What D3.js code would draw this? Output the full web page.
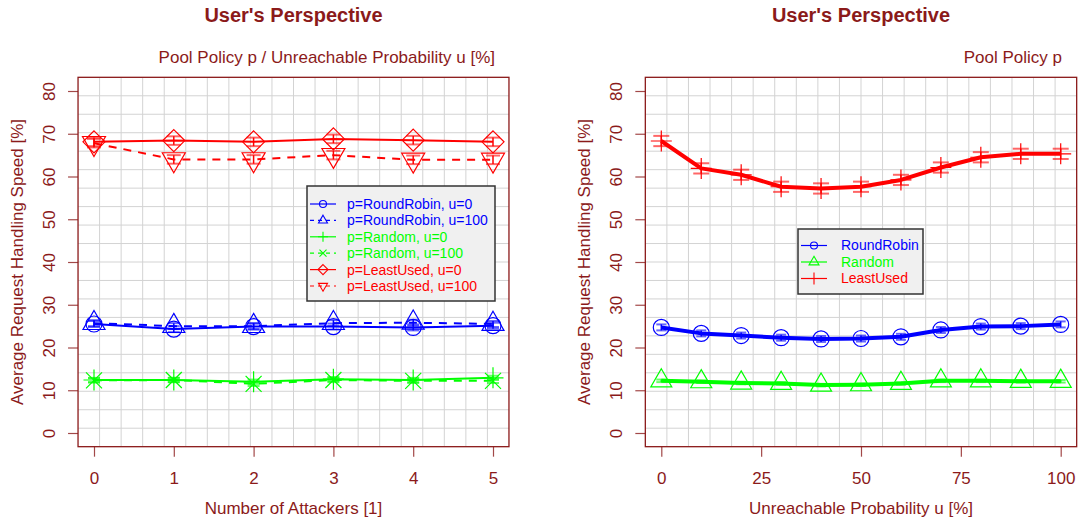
<!DOCTYPE html>
<html><head><meta charset="utf-8">
<script src="https://cdn.jsdelivr.net/npm/d3@7"></script>
<style>
body{margin:0;background:#fff}
svg{display:block}
text{font-family:"Liberation Sans",Arial,Helvetica,sans-serif}
</style>
</head><body><svg id="chart" width="1081" height="522"></svg>
<script>
// ---------- data ----------
const attackers = [0, 1, 2, 3, 4, 5];
const leftRRu0   = [25.5, 24.3, 24.9, 24.9, 24.7, 25.1];
const leftRRu100 = [25.7, 25.0, 25.0, 25.7, 25.8, 25.5];
const leftRndU0  = [12.4, 12.4, 12.0, 12.6, 12.4, 12.9];
const leftRndU100= [12.3, 12.4, 11.5, 12.4, 12.2, 12.2];
const leftLUu0   = [68.1, 68.4, 68.1, 68.8, 68.5, 68.1];
const leftLUu100 = [67.8, 64.0, 64.0, 65.0, 63.9, 63.9];
const leftErrRR  = [0.7, 0.7, 0.7, 0.7, 0.7, 0.7];
const leftErrRnd = [0.5, 0.5, 0.5, 0.5, 0.5, 0.5];
const leftErrLU  = [1.0, 1.0, 1.0, 1.0, 1.0, 1.0];

const unreach = [0, 10, 20, 30, 40, 50, 60, 70, 80, 90, 100];
const rightRR  = [24.7, 23.3, 22.8, 22.3, 22.0, 22.1, 22.5, 24.1, 24.9, 25.0, 25.4];
const rightRnd = [12.2, 12.0, 11.7, 11.6, 11.2, 11.3, 11.6, 12.2, 12.2, 12.1, 12.1];
const rightLU  = [68.3, 61.9, 60.4, 57.6, 57.2, 57.6, 59.2, 62.1, 64.5, 65.3, 65.3];
const rightErrRR  = [0.7, 0.7, 0.7, 0.7, 0.7, 0.7, 0.7, 0.7, 0.7, 0.7, 0.7];
const rightErrRnd = [0.3, 0.3, 0.3, 0.3, 0.3, 0.3, 0.3, 0.3, 0.3, 0.3, 0.3];
const rightErrLU  = [1.2, 1.2, 1.2, 1.2, 1.2, 1.2, 1.2, 1.2, 1.2, 1.2, 1.2];

const yTicks = [0, 10, 20, 30, 40, 50, 60, 70, 80];
const leftXTicks = [0, 1, 2, 3, 4, 5];
const rightXTicks = [0, 25, 50, 75, 100];

const leftLegend = ["p=RoundRobin, u=0","p=RoundRobin, u=100","p=Random, u=0","p=Random, u=100","p=LeastUsed, u=0","p=LeastUsed, u=100"];
const rightLegend = ["RoundRobin","Random","LeastUsed"];

// ---------- setup ----------
const TXT = "#8B1A1A";
const BLUE = "#0000ff", GREEN = "#00ff00", RED = "#ff0000";
const svg = d3.select("#chart");

function sym(g, type, cx, cy, s, color, sw) {
  sw = sw || 1.2;
  const p = d3.path();
  if (type === "circle") {
    g.append("circle").attr("cx", cx).attr("cy", cy).attr("r", s)
      .attr("fill", "none").attr("stroke", color).attr("stroke-width", sw);
    return;
  }
  if (type === "triUp" || type === "triDown") {
    const h = s * Math.sqrt(3) / 2, d = type === "triUp" ? 1 : -1;
    p.moveTo(cx, cy - d * 2 * h / 3);
    p.lineTo(cx + s / 2, cy + d * h / 3);
    p.lineTo(cx - s / 2, cy + d * h / 3);
    p.closePath();
  } else if (type === "diamond") {
    p.moveTo(cx, cy - s); p.lineTo(cx + s, cy); p.lineTo(cx, cy + s); p.lineTo(cx - s, cy); p.closePath();
  } else if (type === "plus") {
    p.moveTo(cx - s, cy); p.lineTo(cx + s, cy); p.moveTo(cx, cy - s); p.lineTo(cx, cy + s);
  } else if (type === "cross") {
    p.moveTo(cx - s, cy - s); p.lineTo(cx + s, cy + s); p.moveTo(cx - s, cy + s); p.lineTo(cx + s, cy - s);
  }
  g.append("path").attr("d", p.toString()).attr("fill", "none").attr("stroke", color).attr("stroke-width", sw);
}

function panel(cfg) {
  const x = d3.scaleLinear().domain(cfg.xDomain).range(cfg.xRange);
  const y = d3.scaleLinear().domain([0, 80]).range([433, 91]);
  const pad = (cfg.xDomain[1] - cfg.xDomain[0]) * 0.04;
  const x0 = x(cfg.xDomain[0] - pad), x1 = x(cfg.xDomain[1] + pad);
  const y0 = y(83.2), y1 = y(-3.2);
  const g = svg.append("g");

  // grid (20 x 20 divisions of plot region)
  const grid = g.append("g").attr("stroke", "#d3d3d3").attr("stroke-width", 1);
  for (let i = 1; i < 20; i++) {
    const gx = x0 + (x1 - x0) * i / 20, gy = y0 + (y1 - y0) * i / 20;
    grid.append("line").attr("x1", gx).attr("x2", gx).attr("y1", y0).attr("y2", y1);
    grid.append("line").attr("x1", x0).attr("x2", x1).attr("y1", gy).attr("y2", gy);
  }

  // axes
  const ya = g.append("g").attr("transform", `translate(${x0},0)`)
    .call(d3.axisLeft(y).tickValues(yTicks).tickSize(10).tickFormat(d3.format("d")));
  ya.select(".domain").remove();
  ya.selectAll("line").attr("stroke", TXT).attr("stroke-opacity", 0.8).attr("stroke-width", 1.2);
  ya.selectAll("text").attr("x", null).attr("dy", null)
    .attr("transform", "translate(-23,0) rotate(-90)").attr("text-anchor", "middle")
    .attr("fill", TXT).style("font-size", "17px").style("font-family", '"Liberation Sans",Arial,sans-serif');

  const xa = g.append("g").attr("transform", `translate(0,${y1})`)
    .call(d3.axisBottom(x).tickValues(cfg.xTicks).tickSize(10).tickFormat(d3.format("d")));
  xa.select(".domain").remove();
  xa.selectAll("line").attr("stroke", TXT).attr("stroke-opacity", 0.8).attr("stroke-width", 1.2);
  xa.selectAll("text").attr("y", 37).attr("dy", null)
    .attr("fill", TXT).style("font-size", "17px").style("font-family", '"Liberation Sans",Arial,sans-serif');

  // box
  g.append("rect").attr("x", x0).attr("y", y0).attr("width", x1 - x0).attr("height", y1 - y0)
    .attr("fill", "none").attr("stroke", TXT).attr("stroke-width", 1.3);

  // titles
  const cx = (x0 + x1) / 2;
  g.append("text").attr("x", cx).attr("y", 22).attr("text-anchor", "middle")
    .attr("fill", TXT).style("font-size", "20px").style("font-weight", "bold").text("User's Perspective");
  g.append("text").attr("x", cfg.subX).attr("y", 63).attr("text-anchor", "end")
    .attr("fill", TXT).style("font-size", "17px").text(cfg.sub);
  g.append("text").attr("x", cx).attr("y", 514).attr("text-anchor", "middle")
    .attr("fill", TXT).style("font-size", "17px").text(cfg.xTitle);
  g.append("text").attr("transform", `translate(${cfg.yTitleX},${(y0 + y1) / 2}) rotate(-90)`)
    .attr("text-anchor", "middle").attr("fill", TXT).style("font-size", "17px")
    .text("Average Request Handling Speed [%]");

  // series
  const xs = cfg.xs;
  cfg.series.forEach(s => {
    const line = d3.line().x((d, i) => x(xs[i])).y(d => y(d));
    g.append("path").datum(s.values).attr("d", line).attr("fill", "none")
      .attr("stroke", s.color).attr("stroke-width", s.lw)
      .attr("stroke-dasharray", s.dash || null).attr("stroke-linejoin", "round");
  });
  cfg.series.forEach(s => {
    const sg = g.append("g");
    s.values.forEach((v, i) => {
      const px = x(xs[i]), py = y(v);
      const lo = y(v - s.err[i]), hi = y(v + s.err[i]);
      sg.append("line").attr("x1", px).attr("x2", px).attr("y1", lo).attr("y2", hi)
        .attr("stroke", s.color).attr("stroke-width", 1.5);
      [lo, hi].forEach(yy => sg.append("line").attr("x1", px - s.cap).attr("x2", px + s.cap)
        .attr("y1", yy).attr("y2", yy).attr("stroke", s.color).attr("stroke-width", 2)
        .attr("stroke-opacity", 0.6));
      sym(sg, s.sym, px, py, s.size, s.color, 1.2);
    });
  });

  // legend
  const L = cfg.legend;
  const lg = g.append("g");
  lg.append("rect").attr("x", L.x).attr("y", L.y).attr("width", L.w).attr("height", L.h)
    .attr("fill", "#f0f0f0").attr("stroke", "#333").attr("stroke-width", 1.5);
  L.labels.forEach((lab, i) => {
    const s = L.items[i];
    const yy = L.y + L.first + i * L.step;
    lg.append("line").attr("x1", L.x + 3).attr("x2", L.x + 29).attr("y1", yy).attr("y2", yy)
      .attr("stroke", s.color).attr("stroke-width", 1.2).attr("stroke-dasharray", s.dash ? "4,4" : null);
    sym(lg, s.sym, L.x + 16, yy, L.symSize[s.sym], s.color, 1.1);
    lg.append("text").attr("x", L.x + L.textOff).attr("y", yy).attr("dy", "0.35em")
      .attr("fill", s.color).style("font-size", "14px").text(lab);
  });
}

// ---------- left panel ----------
const leftSeries = [
  {values: leftRRu0,    err: leftErrRR,  color: BLUE,  lw: 2, sym: "circle",  size: 8,  cap: 6},
  {values: leftRRu100,  err: leftErrRR,  color: BLUE,  lw: 2, sym: "triUp",   size: 22, cap: 6, dash: "8,7"},
  {values: leftRndU0,   err: leftErrRnd, color: GREEN, lw: 2, sym: "plus",    size: 10.5, cap: 6},
  {values: leftRndU100, err: leftErrRnd, color: GREEN, lw: 2, sym: "cross",   size: 8,  cap: 6, dash: "8,7"},
  {values: leftLUu0,    err: leftErrLU,  color: RED,   lw: 2, sym: "diamond", size: 11, cap: 7},
  {values: leftLUu100,  err: leftErrLU,  color: RED,   lw: 2, sym: "triDown", size: 23, cap: 7, dash: "8,7"}
];
panel({
  xDomain: [0, 5], xRange: [94, 493], xTicks: leftXTicks, xs: attackers,
  sub: "Pool Policy p / Unreachable Probability u [%]", subX: 495,
  xTitle: "Number of Attackers [1]", yTitleX: 22.5,
  series: leftSeries,
  legend: {x: 307, y: 186, w: 188, h: 115, first: 18, step: 16.4, textOff: 40,
    labels: leftLegend, items: leftSeries,
    symSize: {circle: 3.5, triUp: 9, plus: 5, cross: 3.5, diamond: 5, triDown: 9}}
});

// ---------- right panel ----------
const rightSeries = [
  {values: rightRR,  err: rightErrRR,  color: BLUE,  lw: 4, sym: "circle", size: 8,  cap: 5},
  {values: rightRnd, err: rightErrRnd, color: GREEN, lw: 4, sym: "triUp",  size: 21, cap: 5},
  {values: rightLU,  err: rightErrLU,  color: RED,   lw: 4, sym: "plus",   size: 10.5, cap: 8}
];
panel({
  xDomain: [0, 100], xRange: [661.3, 1060.7], xTicks: rightXTicks, xs: unreach,
  sub: "Pool Policy p", subX: 1062,
  xTitle: "Unreachable Probability u [%]", yTitleX: 590,
  series: rightSeries,
  legend: {x: 798, y: 229, w: 125, h: 65, first: 16.5, step: 16.5, textOff: 43,
    labels: rightLegend, items: rightSeries,
    symSize: {circle: 3.5, triUp: 10, plus: 6}}
});
</script>
</body></html>
